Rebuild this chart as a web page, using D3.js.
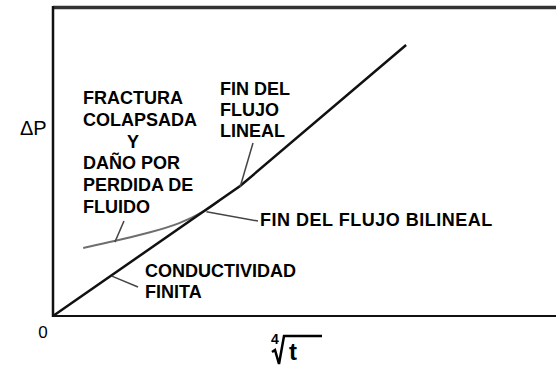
<!DOCTYPE html>
<html>
<head>
<meta charset="utf-8">
<script src="https://cdn.jsdelivr.net/npm/d3@7/dist/d3.min.js"></script>
<style>
  html, body { margin: 0; padding: 0; background: #fff; }
  svg { display: block; }
  text { font-family: "Liberation Sans", Arial, sans-serif; fill: #000; }
</style>
</head>
<body>
<script>
// response lines, in arbitrary units (x = fourth root of t, y = delta P)
var mainX = [0, 3.72, 7.02];
var mainY = [0, 4.22, 8.80];
var damageX = [0.60, 1.23, 1.93, 2.52, 3.05, 3.30];
var damageY = [2.21, 2.43, 2.71, 2.99, 3.42, 3.74];

var leftNote = ["FRACTURA", "COLAPSADA", "Y", "DAÑO POR", "PERDIDA DE", "FLUIDO"];
var linealNote = ["FIN DEL", "FLUJO", "LINEAL"];
var bilinealNote = ["FIN DEL FLUJO BILINEAL"];
var condNote = ["CONDUCTIVIDAD", "FINITA"];
var yLabel = "\u0394P";
var originLabel = "0";
var xLabelIndex = "4";
var xLabelVar = "t";

var W = 556, H = 365;
var svg = d3.select("body").append("svg").attr("width", W).attr("height", H);

var x = d3.scaleLinear().domain([0, 10]).range([53, 556]);
var y = d3.scaleLinear().domain([0, 10]).range([316, 8]);

var mainData = mainX.map(function(d, i) { return [d, mainY[i]]; });
var damageData = damageX.map(function(d, i) { return [d, damageY[i]]; });
var mainAt = d3.scaleLinear().domain(mainX).range(mainY);

// frame: top, left, bottom (right side runs off the picture)
svg.append("line").attr("x1", x(0)).attr("x2", W).attr("y1", y(10) - 0.5).attr("y2", y(10) - 0.5)
  .attr("stroke", "#333").attr("stroke-width", 3.5);
svg.append("line").attr("x1", x(0)).attr("x2", x(0)).attr("y1", y(10) - 2).attr("y2", y(0) + 1)
  .attr("stroke", "#111").attr("stroke-width", 2.5);
svg.append("line").attr("x1", x(0)).attr("x2", W).attr("y1", y(0)).attr("y2", y(0))
  .attr("stroke", "#111").attr("stroke-width", 2);

var line = d3.line().x(function(d) { return x(d[0]); }).y(function(d) { return y(d[1]); });

svg.append("path").datum(damageData)
  .attr("d", line.curve(d3.curveBasis))
  .attr("fill", "none").attr("stroke", "#6e6e6e").attr("stroke-width", 2);

svg.append("path").datum(mainData)
  .attr("d", line.curve(d3.curveLinear))
  .attr("fill", "none").attr("stroke", "#111").attr("stroke-width", 2.5);

// leader lines from the notes to the curves
var leaders = [
  { at: mainData[1], to: [253, 143] },
  { at: damageData[1], to: [124, 221] },
  { at: damageData[4], to: [258, 221] },
  { at: [1.17, mainAt(1.17)], to: [138, 287] }
];
svg.selectAll(".leader").data(leaders).enter().append("line")
  .attr("class", "leader")
  .attr("x1", function(d) { return x(d.at[0]); })
  .attr("y1", function(d) { return y(d.at[1]) + 1; })
  .attr("x2", function(d) { return d.to[0]; })
  .attr("y2", function(d) { return d.to[1]; })
  .attr("stroke", "#444").attr("stroke-width", 1.5);

function note(lines, left, base, step, spacing) {
  var g = svg.append("g");
  g.selectAll("text").data(lines).enter().append("text")
    .attr("x", function(d) { return d === "Y" ? left + 50 : left; })
    .attr("y", function(d, i) { return base + i * step; })
    .attr("text-anchor", function(d) { return d === "Y" ? "middle" : "start"; })
    .style("font-size", "18px").style("font-weight", "bold")
    .style("letter-spacing", (spacing || 0) + "px")
    .text(function(d) { return d; });
}
note(leftNote, 83, 104, 21.8, 0);
note(linealNote, 220, 95, 21, 0);
note(bilinealNote, 260, 226, 0, 0.5);
note(condNote, 145, 277, 21, 0);

svg.append("text").attr("x", 20).attr("y", 135)
  .style("font-size", "20px").text(yLabel);
svg.append("text").attr("x", 43).attr("y", 338).attr("text-anchor", "middle")
  .style("font-size", "17px").text(originLabel);

// fourth-root of t
svg.append("text").attr("x", 271).attr("y", 344)
  .style("font-size", "14px").style("font-weight", "bold").text(xLabelIndex);
svg.append("path")
  .attr("d", "M272,352 L275,350 L279,364 L284,336 L322,336")
  .attr("fill", "none").attr("stroke", "#000").attr("stroke-width", 2.5);
svg.append("text").attr("x", 289).attr("y", 360)
  .style("font-size", "24px").style("font-weight", "bold").text(xLabelVar);
</script>
</body>
</html>
